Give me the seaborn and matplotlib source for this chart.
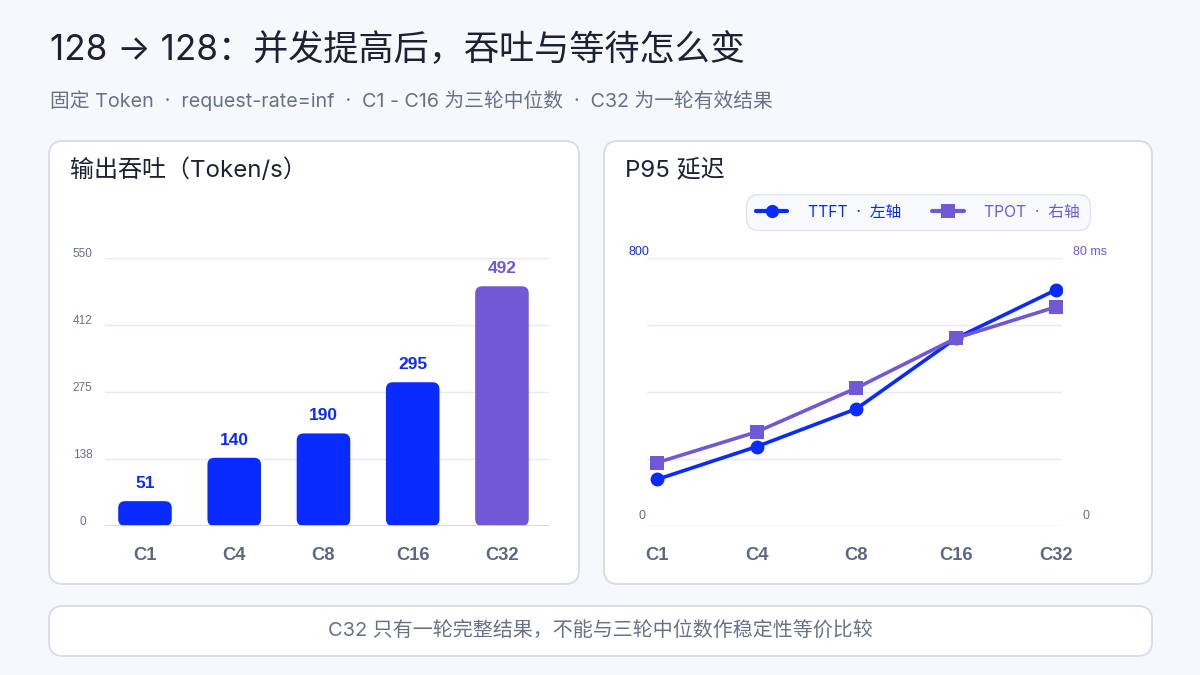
import matplotlib
matplotlib.use("Agg")
import matplotlib.pyplot as plt
from matplotlib.patches import FancyBboxPatch
from matplotlib.lines import Line2D
from matplotlib.transforms import ScaledTranslation
import seaborn as sns
import pandas as pd

# ---------------- data ----------------
categories = ["C1", "C4", "C8", "C16", "C32"]
throughput = [51, 140, 190, 295, 492]
ttft_p95 = [139, 237, 350, 561, 705]        # left axis (0-800)
tpot_p95 = [18.9, 28.1, 41.2, 56.1, 65.4]   # right axis (0-80 ms)
thr_ticks = [0, 137.5, 275, 412.5, 550]
thr_tick_labels = ["0", "138", "275", "412", "550"]

title = "128 → 128：并发提高后，吞吐与等待怎么变"
subtitle = "固定 Token  ·  request-rate=inf  ·  C1 - C16 为三轮中位数  ·  C32 为一轮有效结果"
left_title = "输出吞吐（Token/s）"
right_title = "P95 延迟"
footer = "C32 只有一轮完整结果，不能与三轮中位数作稳定性等价比较"
legend_labels = ["TTFT  ·  左轴", "TPOT  ·  右轴"]

BLUE = "#0a2bff"
PURPLE = "#7058d6"
DARK = "#1c2233"
GRAY = "#67718a"
GRID = "#e7eaf2"
BG = "#f6f8fc"
BORDER = "#d8dde9"

sns.set_theme(style="white")
plt.rcParams['font.family'] = ['Inter', 'Noto Sans CJK SC', 'DejaVu Sans']
CJK = ['Inter', 'Noto Sans CJK SC', 'DejaVu Sans']
ARIAL = ['Liberation Sans', 'DejaVu Sans']

W, H = 1200, 675
fig = plt.figure(figsize=(12, 6.75), dpi=100)
fig.patch.set_facecolor(BG)

# background layer in pixel coordinates
bg = fig.add_axes([0, 0, 1, 1])
bg.set_xlim(0, W)
bg.set_ylim(H, 0)
bg.axis("off")

def card(x, y, w, h, r=14):
    bg.add_patch(FancyBboxPatch((x, y), w, h, boxstyle=f"round,pad=0,rounding_size={r}",
                                fc="white", ec=BORDER, lw=1.4))

card(49, 141, 530, 443)
card(604, 141, 548, 443)
card(49, 606, 1103, 50)

bg.text(50, 50, title, fontsize=25.3, color=DARK, va="center", ha="left", family=CJK)
bg.text(50, 101, subtitle, fontsize=14.2, color=GRAY, va="center", ha="left", family=CJK)
bg.text(70, 170, left_title, fontsize=17.3, color=DARK, va="center", ha="left", family=CJK)
bg.text(625, 170, right_title, fontsize=17.3, color=DARK, va="center", ha="left", family=CJK)
bg.text(600, 631, footer, fontsize=14.4, color=GRAY, va="center", ha="center", family=CJK)

def fig_rect(x0, x1, ytop, ybot):
    return [x0 / W, (H - ybot) / H, (x1 - x0) / W, (ybot - ytop) / H]

up4 = ScaledTranslation(0, 4 / 100, fig.dpi_scale_trans)

# ---------------- left: throughput bars ----------------
axL = fig.add_axes(fig_rect(105, 549, 258, 526))
axL.set_facecolor("none")
df = pd.DataFrame({"cat": categories, "val": throughput})
bar_colors = [BLUE, BLUE, BLUE, BLUE, PURPLE]
sns.barplot(data=df, x="cat", y="val", hue="cat", palette=bar_colors, legend=False,
            width=0.6, ax=axL, saturation=1)
axL.set_xlim(-0.448, 4.527)
axL.set_ylim(0, 550)

# rounded bars
x_per_px = 1 / 89.25
y_per_px = 550 / 268
aspect = y_per_px / x_per_px
for p, c in zip(list(axL.patches), bar_colors):
    x, y, w, h = p.get_x(), p.get_y(), p.get_width(), p.get_height()
    p.remove()
    axL.add_patch(FancyBboxPatch((x, y), w, h,
                                 boxstyle=f"round,pad=0,rounding_size={7 * x_per_px}",
                                 mutation_aspect=aspect, fc=c, ec="none", zorder=2))
    axL.text(x + w / 2, h + 10 * y_per_px, f"{int(round(h))}", ha="center", va="bottom",
             color=c, fontsize=12.5, fontweight="bold", family=ARIAL)

axL.set_yticks(thr_ticks)
axL.set_yticklabels(thr_tick_labels)
axL.yaxis.grid(True, color=GRID, lw=1)
axL.set_axisbelow(True)
axL.axhline(0, color="#cfd5e3", lw=2, zorder=3)
for s in axL.spines.values():
    s.set_visible(False)
axL.tick_params(axis="y", length=0, pad=16, labelsize=8.5, labelcolor=GRAY)
for t in axL.get_yticklabels():
    t.set_horizontalalignment("center")
    t.set_verticalalignment("center")
    t.set_family(ARIAL)
    t.set_transform(t.get_transform() + up4)
axL.tick_params(axis="x", length=0, pad=15, labelsize=13.2, labelcolor="#5e6880")
for t in axL.get_xticklabels():
    t.set_fontweight("bold")
    t.set_family(ARIAL)
axL.set_xlabel("")
axL.set_ylabel("")

# ---------------- right: latency lines ----------------
axR = fig.add_axes(fig_rect(647, 1062, 258, 526))
axR.set_facecolor("none")
sns.lineplot(x=categories, y=ttft_p95, ax=axR, color=BLUE, marker="o", markersize=10,
             linewidth=2.6, markeredgewidth=0, sort=False)
axR.set_xlim(-0.1, 4.06)
axR.set_ylim(0, 800)
axR.set_yticks([0, 200, 400, 600, 800])
axR.set_yticklabels(["0", "", "", "", "800"])
axR.yaxis.grid(True, color=GRID, lw=1)
axR.set_axisbelow(True)
for s in axR.spines.values():
    s.set_visible(False)
axR.tick_params(axis="y", length=0, pad=6, labelsize=9)
ylabs = axR.get_yticklabels()
for t in ylabs:
    t.set_horizontalalignment("center")
    t.set_verticalalignment("bottom")
    t.set_family(ARIAL)
ylabs[0].set_color(GRAY)
ylabs[-1].set_color(BLUE)
ylabs[0].set_transform(ylabs[0].get_transform() + ScaledTranslation(3 / 100, 4 / 100, fig.dpi_scale_trans))
axR.tick_params(axis="x", length=0, pad=15, labelsize=13.2, labelcolor="#5e6880")
for t in axR.get_xticklabels():
    t.set_fontweight("bold")
    t.set_family(ARIAL)

ax2 = axR.twinx()
sns.lineplot(x=categories, y=tpot_p95, ax=ax2, color=PURPLE, marker="s", markersize=10,
             linewidth=2.6, markeredgewidth=0, sort=False)
ax2.set_ylim(0, 80)
ax2.set_xlim(-0.1, 4.06)
ax2.set_yticks([0, 80])
ax2.set_yticklabels(["0", "80 ms"])
for s in ax2.spines.values():
    s.set_visible(False)
ax2.tick_params(axis="y", length=0, pad=20, labelsize=9)
rl = ax2.get_yticklabels()
for t in rl:
    t.set_horizontalalignment("center")
    t.set_verticalalignment("bottom")
    t.set_family(ARIAL)
rl[0].set_color(GRAY)
rl[1].set_color(PURPLE)
rl[0].set_transform(rl[0].get_transform() + ScaledTranslation(-4 / 100, 4 / 100, fig.dpi_scale_trans))
ax2.grid(False)
for a in (axR, ax2):
    a.set_xlabel("")
    a.set_ylabel("")

handles = [Line2D([], [], color=BLUE, marker="o", markersize=9.5, lw=3, markeredgewidth=0),
           Line2D([], [], color=PURPLE, marker="s", markersize=9.5, lw=3, markeredgewidth=0)]
leg = ax2.legend(handles, legend_labels, loc="center", ncol=2,
                 bbox_to_anchor=(918 / W, 1 - 212 / H), bbox_transform=fig.transFigure,
                 frameon=True, fancybox=True, facecolor=BG, edgecolor=BORDER,
                 labelcolor=[BLUE, PURPLE], handlelength=2.0,
                 columnspacing=2.0, borderpad=0.65, handletextpad=1.3,
                 prop={"family": CJK, "size": 11.3})
leg.get_frame().set_linewidth(1)
leg.get_frame().set_boxstyle("round,pad=0,rounding_size=0.8")

fig.savefig("out.png", dpi=100, facecolor=BG)
